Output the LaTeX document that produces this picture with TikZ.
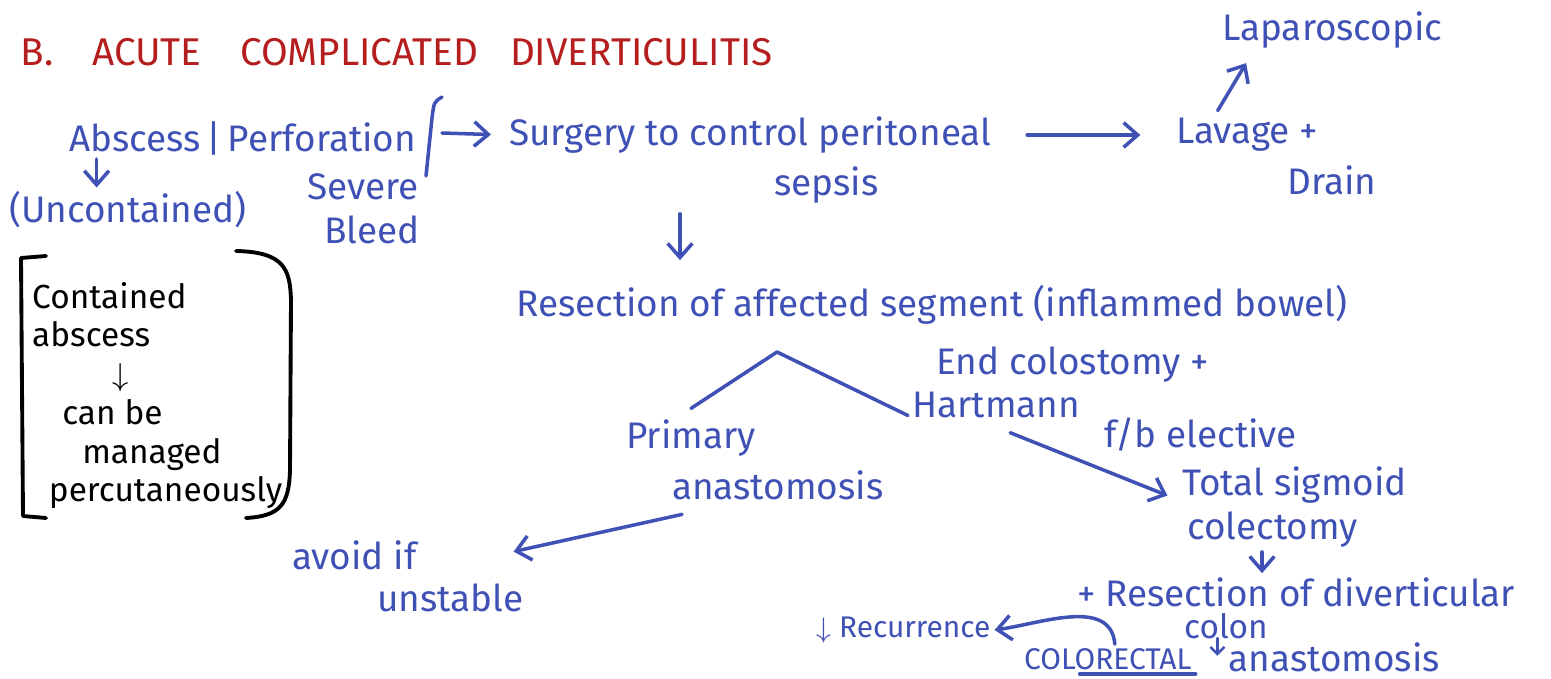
\documentclass[tikz,border=0pt]{standalone}
\usepackage{fontspec}
\setmainfont{Fira Sans}
\usetikzlibrary{arrows.meta, positioning}

\definecolor{ink}{RGB}{63,81,181}
\definecolor{headred}{RGB}{180,30,30}

\tikzset{
  note/.style={text=ink, font=\fontsize{10.5}{13}\selectfont, inner sep=1pt},
  boxnote/.style={note, text=black, align=left, font=\fontsize{9.5}{11}\selectfont},
  pen/.style={draw=ink, line width=1pt, line cap=round, line join=round},
  >={Straight Barb[length=4pt, width=7pt]}
}

\begin{document}
\begin{tikzpicture}[x=0.01cm, y=-0.01cm]
\useasboundingbox (0,0) rectangle (1551,679);

% heading
\node[anchor=west, inner sep=0pt, text=headred, font=\fontsize{11}{13}\selectfont] (title) at (20,52)
  {B.\hspace*{11pt}ACUTE\hspace*{11pt}COMPLICATED\hspace*{9pt}DIVERTICULITIS};

% first row
\node[note, anchor=west] (abscess) at (65,138) {Abscess\,|\,Perforation};
\node[note, anchor=west] (uncont) at (5,210) {(Uncontained)};
\node[note, anchor=west] (severe) at (303,187) {Severe};
\node[note, anchor=west] (bleed) at (320,230) {Bleed};
\node[note, anchor=west] (surgery) at (505,135) {Surgery to control peritoneal};
\node[note, anchor=west] (sepsis) at (770,185) {sepsis};
\node[note, anchor=west] (lavage) at (1172,135) {Lavage +};
\node[note, anchor=west] (drain) at (1283,180) {Drain};
\node[note, anchor=west] (lapa) at (1218,30) {Laparoscopic};
\coordinate (bar) at (442,133);
\coordinate (drop) at (680,0);

% second row
\node[note, anchor=west] (resect) at (512,305) {Resection of affected segment (inflammed bowel)};
\coordinate (split) at (777,352);
\node[note, anchor=west] (primary) at (622,438) {Primary};
\node[note, anchor=west] (anast) at (668,485) {anastomosis};
\node[note, anchor=west] (endcol) at (932,365) {End colostomy +};
\node[note, anchor=west] (hartmann) at (908,405) {Hartmann};
\node[note, anchor=west] (avoid) at (288,555) {avoid if};
\node[note, anchor=west] (unstable) at (373,598) {unstable};

% elective branch
\node[note, anchor=west] (fb) at (1100,435) {f/b elective};
\node[note, anchor=west] (total) at (1178,485) {Total sigmoid};
\node[note, anchor=west] (colect) at (1183,530) {colectomy};
\node[note, anchor=west] (divres) at (1073,592) {+ Resection of diverticular};
\node[note, anchor=west, font=\fontsize{9.5}{11}\selectfont] (colon) at (1180,626) {colon};
\node[note, anchor=west, font=\fontsize{8.5}{10}\selectfont] (recur) at (812,630) {$\downarrow$ Recurrence};
\node[note, anchor=west, font=\fontsize{8.5}{10}\selectfont] (colorectal) at (1020,659) {COLORECTAL};
\node[note, anchor=west, inner sep=0pt] (anast2) at (1228,657) {anastomosis};

% bracketed box
\node[boxnote, anchor=north west] (contained) at (28,278)
  {Contained\\ abscess\\ \hspace*{2.4em}$\downarrow$\\ \hspace*{0.9em}can be\\ \hspace*{1.5em}managed\\ \hspace*{0.5em}percutaneously};
\draw[line width=1.1pt, line cap=round, line join=round]
  (46,256) -- (21,258) -- (23,516) -- (46,518);
\draw[line width=1.1pt, line cap=round]
  (236,251) .. controls (285,252) and (290,270) .. (291,300)
  -- (290,470) .. controls (289,505) and (280,516) .. (246,518);

% connectors
\draw[pen] (426,176) -- (432,118) .. controls (434,102) .. (442,97);
\draw[pen,->] ([xshift=9pt]abscess.south west) -- ([xshift=9pt]abscess.south west |- uncont.north);
\draw[pen,->, shorten >=4pt] (bar) -- (surgery.west);
\draw[pen,->, shorten <=9pt, shorten >=9pt] (surgery) -- (lavage);
\draw[pen,->] ([xshift=13pt,yshift=1pt]lavage.north west) -- ([xshift=8pt,yshift=-3pt]lapa.south west);
\draw[pen,->, shorten <=16pt, shorten >=6pt] (surgery.south -| drop) -- (resect.north -| drop);
\draw[pen] ([yshift=2pt]primary.north) -- (split) -- ([yshift=-3pt]hartmann.west);
\draw[pen,->] ([xshift=4pt,yshift=-3pt]anast.south west) -- ([xshift=-4pt,yshift=8pt]unstable.north east);
\draw[pen,->] ([xshift=4pt,yshift=-3pt]hartmann.south) -- ([xshift=-3pt,yshift=-3pt]total.west);
\draw[pen,->] ([xshift=-3pt]colect.south) -- ([xshift=-3pt]colect.south |- divres.north);
\draw[pen,->] ([xshift=2pt]colorectal.north) to[out=95, in=8] (recur.east);
\draw[pen,-{Straight Barb[length=2pt, width=4pt]}, line width=0.7pt]
  ([xshift=-3pt,yshift=1pt]anast2.north west) -- ([xshift=-3pt,yshift=-4pt]anast2.north west);
\draw[pen] ([xshift=-33pt]colorectal.south east) -- (colorectal.south east);

\end{tikzpicture}
\end{document}
